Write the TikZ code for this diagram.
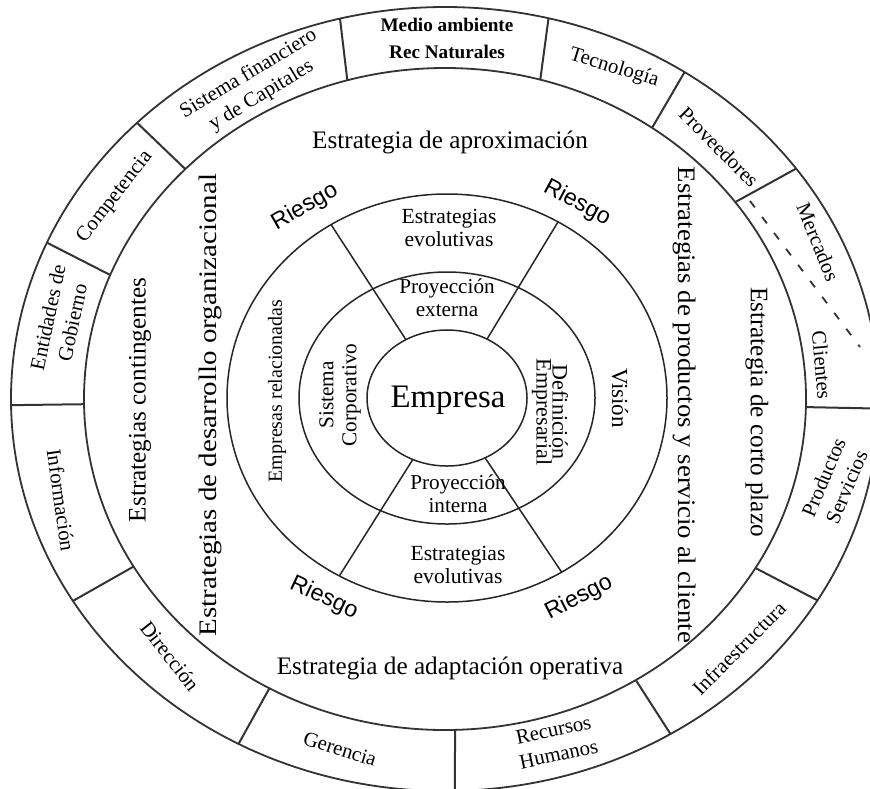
\documentclass[tikz,border=0pt]{standalone}
\usepackage{fontspec}
\setmainfont{Liberation Serif}
\setsansfont{Liberation Sans}
\usetikzlibrary{calc}
\begin{document}
\begin{tikzpicture}[x=0.5pt,y=-0.5pt,
  ring/.style={draw=black!85,line width=0.75pt},
  outerring/.style={draw=black!80,line width=0.9pt},
  divider/.style={draw=black!80,line width=1pt},
  band/.style={font=\fontsize{10.4}{12.5}\selectfont,align=center,inner sep=0pt},
  bandbold/.style={font=\bfseries\fontsize{9.6}{13.5}\selectfont,align=center,inner sep=0pt},
  strat/.style={font=\fontsize{12.6}{15}\selectfont,inner sep=0pt},
  core/.style={font=\fontsize{10.6}{11.5}\selectfont,align=center,inner sep=0pt},
  risk/.style={font=\sffamily\fontsize{11.6}{14}\selectfont,inner sep=0pt},
]
\useasboundingbox (0,0) rectangle (870,788);
\fill[white] (0,0) rectangle (870,788);
\clip (0,0) rectangle (870,788);

% centres of the outer band and of the inner rings
\coordinate (co) at (445,399);
\coordinate (ci) at (447,398);

% outer band of environment factors
\draw[outerring] (co) ellipse [x radius=217pt, y radius=196pt];
\draw[outerring] (co) ellipse [x radius=180.5pt, y radius=165.5pt];

% radial dividers of the outer band (inner angle / outer angle)
\foreach \ai/\ao in {254.3/256, 285.3/283.8, 305/303.5, 323.5/324, 1.4/1.4,
                     30.7/30.9, 58.1/58.7, 88.4/88.7, 119.1/118.4, 149.6/149,
                     179.1/179.1, 202/203.5, 224/224.8}
  \draw[divider] ($(co)+(\ai:361 and 331)$) -- ($(co)+(\ao:434 and 392)$);

% dashed split between Mercados and Clientes
\coordinate (dsA) at (750,201);
\coordinate (dsB) at (860,347);
\draw[draw=black!80,line width=0.9pt,dash pattern=on 4pt off 6pt] (dsA) -- (dsB);

% inner rings
\draw[ring] (ci) ellipse [x radius=110pt, y radius=102pt];
\draw[ring] (ci) ellipse [x radius=74pt, y radius=63pt];
\draw[ring] (ci) ellipse [x radius=40pt, y radius=34pt];

% spokes between the centre and the third ring
\foreach \ai/\ao in {239.1/238.2, 300/300.3, 115.3/119.3, 61.6/58.6}
  \draw[ring] ($(ci)+(\ai:80 and 68)$) -- ($(ci)+(\ao:220 and 204)$);

% centre
\node[font=\fontsize{16.4}{18}\selectfont,inner sep=0pt] (empresa) at (448,400) {Empresa};

% second ring
\node[core] (pext) at (447,298) {Proyección\\externa};
\node[core] (pint) at (458,494) {Proyección\\interna};
\node[core,rotate=90] (sisc) at (340,395) {Sistema\\Corporativo};
\node[core,rotate=-90,font=\fontsize{11}{8}\selectfont] (defe) at (550,412) {Definición\\Empresarial};

% third ring
\node[core,font=\fontsize{10.8}{11.5}\selectfont] (evs) at (449,228) {Estrategias\\evolutivas};
\node[core,font=\fontsize{10.8}{11.5}\selectfont] (evi) at (458,565) {Estrategias\\evolutivas};
\node[core,rotate=90,font=\fontsize{10}{12}\selectfont] (emprel) at (277,391) {Empresas relacionadas};
\node[core,rotate=-90,font=\fontsize{11.5}{12}\selectfont] (vision) at (620,398) {Visión};

% risk labels
\node[risk,rotate=30]  (r1) at (305,207) {Riesgo};
\node[risk,rotate=-28] (r2) at (577,203) {Riesgo};
\node[risk,rotate=-25] (r3) at (324,598) {Riesgo};
\node[risk,rotate=27]  (r4) at (579,598) {Riesgo};

% strategy ring
\node[strat] (eapr) at (450,142) {Estrategia de aproximación};
\node[strat] (eada) at (450,668) {Estrategia de adaptación operativa};
\node[strat,rotate=90] (econ) at (140,400) {Estrategias contingentes};
\node[strat,rotate=90] (edes) at (210,405) {\scalebox{1.15}[1]{Estrategias de desarrollo organizacional}};
\node[strat,rotate=-90] (epro) at (685,405) {\scalebox{1.06}[1]{Estrategias de productos y servicio al cliente}};
\node[strat,rotate=-90] (ecor) at (757,412) {Estrategia de corto plazo};

% outer band labels
\node[bandbold] (medio) at (447,38) {Medio ambiente\\Rec Naturales};
\node[band,rotate=-17] (tecno) at (614,68) {Tecnología};
\node[band,rotate=-45] (prove) at (719,147) {Proveedores};
\node[band,rotate=-68] (merca) at (818,242) {Mercados};
\node[band,rotate=-85] (clien) at (822,365) {Clientes};
\node[band,rotate=67] (produ) at (835,482) {Productos\\Servicios};
\node[band,rotate=45] (infra) at (739,648) {Infraestructura};
\node[band,rotate=12] (rrhh) at (556,742) {Recursos\\Humanos};
\node[band,rotate=-17] (geren) at (340,749) {Gerencia};
\node[band,rotate=-52] (direc) at (170,656) {Dirección};
\node[band,rotate=-82] (infor) at (61,500) {Información};
\node[band,rotate=78] (entid) at (60,320) {Entidades de\\Gobierno};
\node[band,rotate=52] (compe) at (115,197) {Competencia};
\node[band,rotate=31] (sisfi) at (255,85) {Sistema financiero\\y de Capitales};
\end{tikzpicture}
\end{document}
